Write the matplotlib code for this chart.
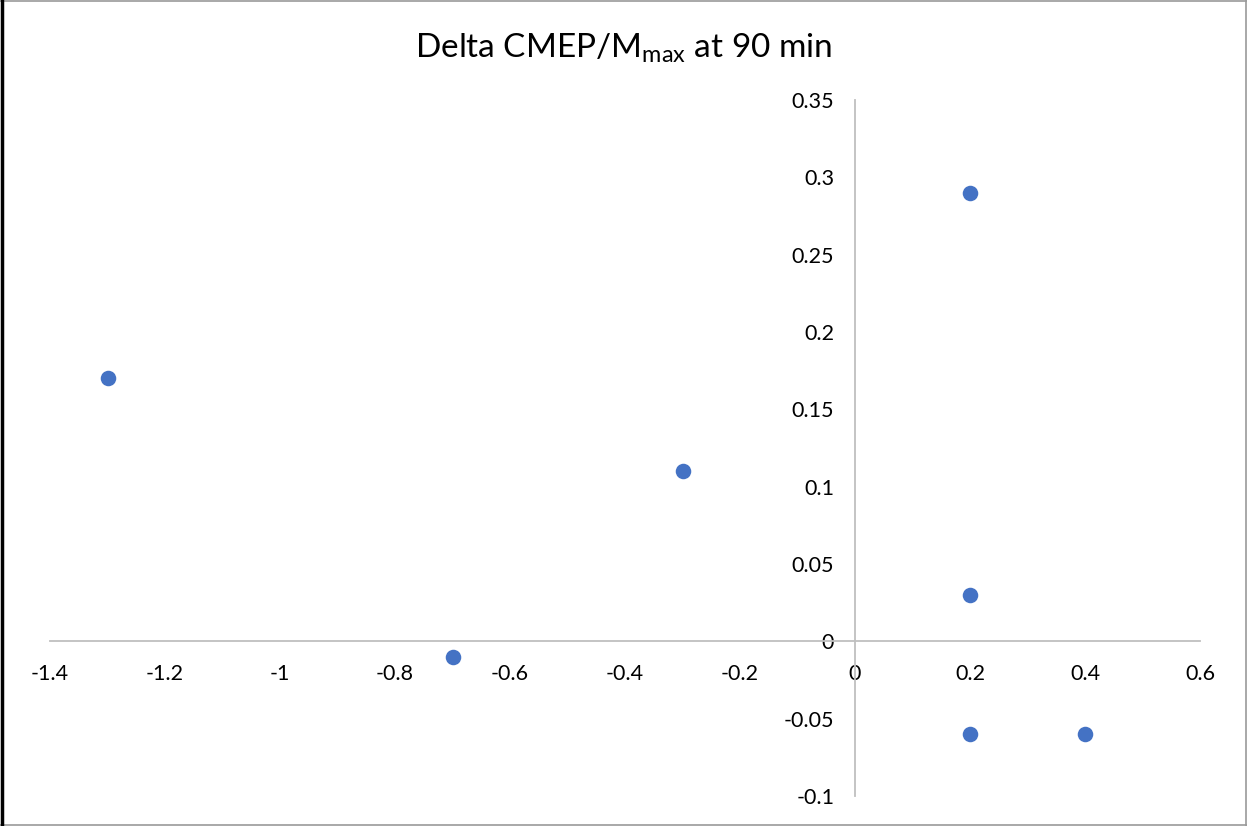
import matplotlib
matplotlib.use("Agg")
import matplotlib.pyplot as plt
from matplotlib.lines import Line2D

x_vals = [-1.3, -0.7, -0.3, 0.2, 0.2, 0.2, 0.4]
y_vals = [0.17, -0.01, 0.11, 0.29, 0.03, -0.06, -0.06]
x_ticks = [-1.4, -1.2, -1.0, -0.8, -0.6, -0.4, -0.2, 0, 0.2, 0.4, 0.6]
x_labels = ["-1.4", "-1.2", "-1", "-0.8", "-0.6", "-0.4", "-0.2", "0", "0.2", "0.4", "0.6"]
y_ticks = [-0.1, -0.05, 0, 0.05, 0.1, 0.15, 0.2, 0.25, 0.3, 0.35]
y_labels = ["-0.1", "-0.05", "0", "0.05", "0.1", "0.15", "0.2", "0.25", "0.3", "0.35"]

plt.rcParams['font.family'] = ['Lato', 'DejaVu Sans']
plt.rcParams['mathtext.fontset'] = 'custom'
plt.rcParams['mathtext.rm'] = 'Lato'

W, H = 1247, 826
fig = plt.figure(figsize=(W / 100, H / 100), dpi=100)
ax = fig.add_axes([50 / W, 1 - 796 / H, 1150 / W, 696 / H])

ax.scatter(x_vals, y_vals, s=125, color='#4472C4', zorder=3, linewidths=0)
ax.set_xlim(-1.4, 0.6)
ax.set_ylim(-0.1, 0.35)

for s in ['top', 'right']:
    ax.spines[s].set_visible(False)
ax.spines['left'].set_position(('data', 0))
ax.spines['bottom'].set_position(('data', 0))
for s in ['left', 'bottom']:
    ax.spines[s].set_color('#BFBFBF')
    ax.spines[s].set_linewidth(1.3)

ax.set_xticks(x_ticks)
ax.set_xticklabels(x_labels)
ax.set_yticks(y_ticks)
ax.set_yticklabels(y_labels)
ax.tick_params(axis='both', length=0, labelsize=15.5, colors='#000000')
ax.tick_params(axis='y', pad=15)
ax.tick_params(axis='x', pad=16)
ax.patch.set_alpha(0)

fig.text(624 / W, 1 - 48 / H, r'Delta CMEP/M$_{\mathregular{max}}$ at 90 min',
         ha='center', va='center', fontsize=24, color='#000000')

# frame
fig.add_artist(Line2D([0, 1], [1 - 1 / H, 1 - 1 / H], transform=fig.transFigure, color='#9A9A9A', lw=1.2))
fig.add_artist(Line2D([0, 1], [1.5 / H, 1.5 / H], transform=fig.transFigure, color='#9A9A9A', lw=1.2))
fig.add_artist(Line2D([1 - 1 / W, 1 - 1 / W], [0, 1], transform=fig.transFigure, color='#9A9A9A', lw=1.2))
fig.add_artist(Line2D([1.5 / W, 1.5 / W], [0, 1], transform=fig.transFigure, color='#000000', lw=2.5))

fig.savefig('out.png', dpi=100)
